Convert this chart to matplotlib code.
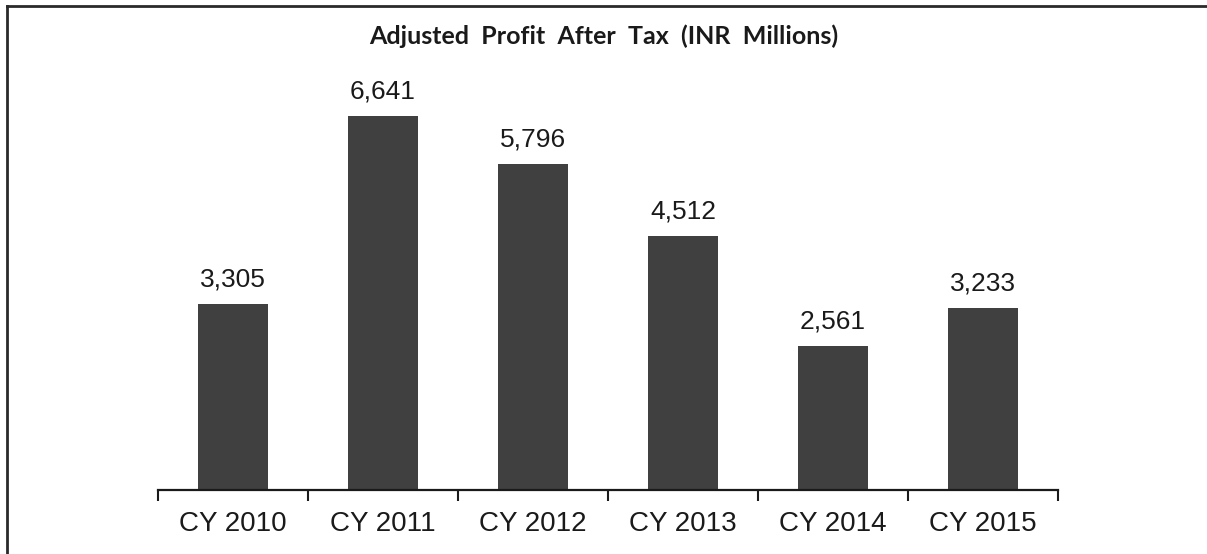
import matplotlib
matplotlib.use("Agg")
import matplotlib.pyplot as plt
from matplotlib.lines import Line2D

years = ["CY 2010", "CY 2011", "CY 2012", "CY 2013", "CY 2014", "CY 2015"]
profit = [3305, 6641, 5796, 4512, 2561, 3233]

W, H = 1207, 554
fig = plt.figure(figsize=(W / 100, H / 100), dpi=100)

# plot area in pixel terms: x 158..1058, baseline at y=490
ax = fig.add_axes([158 / W, (H - 490) / H, 900 / W, 430 / H])
x = range(len(years))
ax.bar(x, profit, width=0.467, color="#404040", zorder=2)
for xi, v in zip(x, profit):
    ax.annotate(f"{v:,}", (xi, v), xytext=(0, 9), textcoords="offset points",
                ha="center", va="bottom", fontsize=19,
                family="Liberation Sans", color="#1a1a1a")

ax.set_xlim(-0.5, len(years) - 0.5)
ax.set_ylim(0, 430 / 374 * max(profit))
ax.set_xticks([i - 0.5 for i in range(len(years) + 1)])
ax.set_xticklabels([])
ax.set_xticks(list(x), minor=True)
ax.set_xticklabels(years, minor=True, fontsize=20, family="Liberation Sans",
                   color="#1a1a1a")
ax.tick_params(axis="x", which="major", direction="out", length=8, width=1.5,
               color="#1a1a1a")
ax.tick_params(axis="x", which="minor", length=0, pad=15)
ax.set_yticks([])
for s in ["top", "right", "left"]:
    ax.spines[s].set_visible(False)
ax.spines["bottom"].set_linewidth(1.6)
ax.spines["bottom"].set_color("#1a1a1a")

fig.text(0.5, 1 - 36 / H, "Adjusted  Profit  After  Tax  (INR  Millions)",
         ha="center", va="center", fontsize=18, fontweight="bold",
         family="Lato", color="#1a1a1a")

# frame: only top and left edges
fig.add_artist(Line2D([7 / W, 7 / W], [0, 1 - 6 / H], transform=fig.transFigure,
                      color="#2a2a2a", lw=2))
fig.add_artist(Line2D([7 / W, 1], [1 - 6 / H, 1 - 6 / H], transform=fig.transFigure,
                      color="#2a2a2a", lw=2))

fig.savefig("out.png", dpi=100)
